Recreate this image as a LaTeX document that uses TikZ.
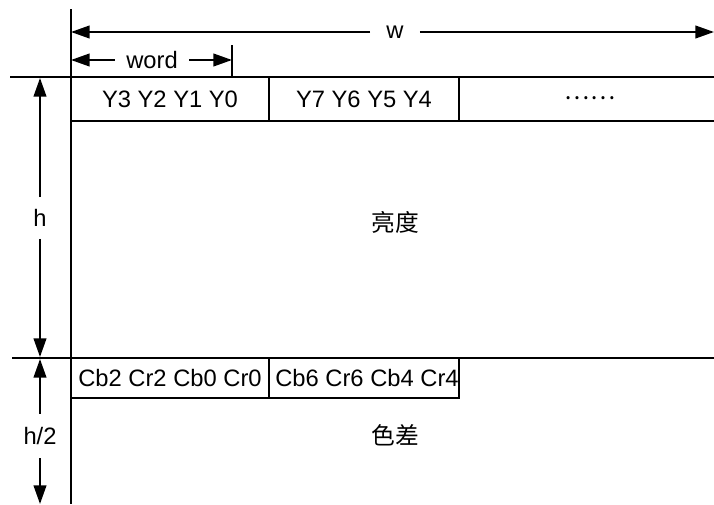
\documentclass[tikz,border=0pt]{standalone}
\usepackage{fontspec}
\setmainfont{Liberation Sans}
\newfontfamily\cjk{Noto Sans CJK SC}
\usetikzlibrary{arrows.meta, positioning}
\tikzset{
  frameLine/.style={
    line width=1.5pt,
    draw=black
  },
  cellLine/.style={
    line width=1.3pt,
    draw=black
  },
  dimArrow/.style={
    -{Triangle[length=14pt, width=9.5pt]},
    line width=1.5pt,
    draw=black
  },
  dimLabel/.style={
    inner sep=0pt,
    font=\fontsize{17.8}{20}\selectfont
  },
  cellText/.style={
    inner sep=0pt,
    font=\fontsize{17.8}{20}\selectfont
  }
}

\begin{document}
\begin{tikzpicture}[x=0.75pt, y=-0.75pt]
  \useasboundingbox (0,0) rectangle (714,504);
  % Frame lines
  \draw[frameLine] (71,9) -- (71,504);
  \draw[frameLine] (10,77) -- (714,77);
  \draw[frameLine] (12,358) -- (714,358);

  % Luma row
  \draw[cellLine] (71,121) -- (714,121);
  \draw[cellLine] (269,77) -- (269,121);
  \draw[cellLine] (459,77) -- (459,121);
  \node[cellText] (lumaA) at (170,99) {Y3 Y2 Y1 Y0};
  \node[cellText] (lumaB) at (364,99) {Y7 Y6 Y5 Y4};
  \node[cellText] (lumaC) at (590,98) {\cjk ……};
  \node[cellText] (lumaName) at (395,222) {\cjk 亮度};

  % Chroma row
  \draw[cellLine] (71,398) -- (459,398) -- (459,358);
  \draw[cellLine] (269,358) -- (269,398);
  \node[cellText] (chromaA) at (170,378) {Cb2 Cr2 Cb0 Cr0};
  \node[cellText] (chromaB) at (367,378) {Cb6 Cr6 Cb4 Cr4};
  \node[cellText] (chromaName) at (395,435) {\cjk 色差};

  % Width w
  \coordinate (wLeft) at (71,32);
  \coordinate (wRight) at (714,32);
  \node[dimLabel, inner xsep=12pt] (wLab) at (395,32) {w};
  \draw[dimArrow] (wLab) -- (wLeft);
  \draw[dimArrow] (wLab) -- (wRight);

  % One word
  \draw[frameLine] (232,45) -- (232,77);
  \coordinate (wordLeft) at (71,60);
  \coordinate (wordRight) at (232,60);
  \node[dimLabel, inner xsep=8.5pt] (wordLab) at (152,60) {word};
  \draw[dimArrow] (wordLab) -- (wordLeft);
  \draw[dimArrow] (wordLab) -- (wordRight);

  % Height h
  \coordinate (hTop) at (40,78);
  \coordinate (hBot) at (40,357);
  \node[dimLabel, inner ysep=9pt] (hLab) at (40,218) {h};
  \draw[dimArrow] (hLab) -- (hTop);
  \draw[dimArrow] (hLab) -- (hBot);

  % Height h/2
  \coordinate (halfTop) at (40,359);
  \coordinate (halfBot) at (40,504);
  \node[dimLabel, inner ysep=10pt] (halfLab) at (40,436) {h/2};
  \draw[dimArrow] (halfLab) -- (halfTop);
  \draw[dimArrow] (halfLab) -- (halfBot);
\end{tikzpicture}
\end{document}
